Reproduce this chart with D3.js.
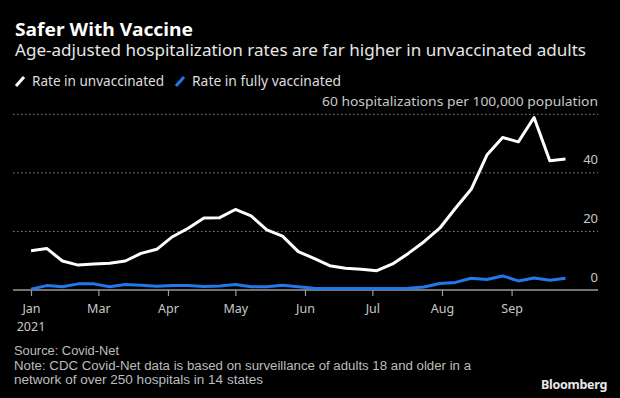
<!DOCTYPE html>
<html>
<head>
<meta charset="utf-8">
<script src="https://cdn.jsdelivr.net/npm/d3@7"></script>
<style>
  html, body { margin: 0; padding: 0; background: #000; }
  svg { display: block; font-family: "Noto Sans", "Open Sans", sans-serif; }
</style>
</head>
<body>
<svg id="chart" width="620" height="398"></svg>
<script>
// weekly points, Jan 30 - Sep 25 2021
const weeks = [
  '2021-01-30', '2021-02-06', '2021-02-13', '2021-02-20', '2021-02-27',
  '2021-03-06', '2021-03-13', '2021-03-20', '2021-03-27',
  '2021-04-03', '2021-04-10', '2021-04-17', '2021-04-24',
  '2021-05-01', '2021-05-08', '2021-05-15', '2021-05-22', '2021-05-29',
  '2021-06-05', '2021-06-12', '2021-06-19', '2021-06-26',
  '2021-07-03', '2021-07-10', '2021-07-17', '2021-07-24', '2021-07-31',
  '2021-08-07', '2021-08-14', '2021-08-21', '2021-08-28',
  '2021-09-04', '2021-09-11', '2021-09-18', '2021-09-25'
];
const unvaccinated = [
  13.4, 14.2, 9.9, 8.5, 8.9, 9.1, 9.9, 12.5, 13.9, 18.2, 21.1, 24.6, 24.7,
  27.5, 25.3, 20.5, 18.4, 13.1, 10.8, 8.3, 7.4, 7.1, 6.6, 8.9, 12.5, 16.5,
  21.1, 27.9, 34.4, 46.1, 52.1, 50.6, 58.9, 44.1, 44.7
];
const vaccinated = [
  0.3, 1.5, 1.1, 2.1, 2.1, 1.1, 1.9, 1.6, 1.3, 1.5, 1.5, 1.2, 1.4,
  1.9, 1.1, 1.1, 1.6, 1.1, 0.6, 0.5, 0.5, 0.5, 0.5, 0.5, 0.6, 1.0,
  2.2, 2.6, 4.0, 3.6, 4.8, 3.1, 4.1, 3.3, 4.0
];
const yTicks = [0, 20, 40, 60];
const xTickDates = ['2021-01-30', '2021-03-01', '2021-04-01', '2021-05-01',
                    '2021-06-01', '2021-07-01', '2021-08-01', '2021-09-01'];
const xTickLabels = ['Jan', 'Mar', 'Apr', 'May', 'Jun', 'Jul', 'Aug', 'Sep'];

const parse = d3.timeParse('%Y-%m-%d');
const dates = weeks.map(parse);

const svg = d3.select('#chart');
svg.append('rect').attr('width', 620).attr('height', 398).attr('fill', '#000');

// squeeze text to the width seen in the picture
function fit(sel, w) {
    sel.attr('textLength', w).attr('lengthAdjust', 'spacingAndGlyphs');
    return sel;
}

const x = d3.scaleTime()
    .domain([dates[0], dates[dates.length - 1]])
    .range([31, 565.5]);

const y = d3.scaleLinear()
    .domain([0, 60])
    .range([290, 114.3]);

const left = 13, right = 598;

// titles
fit(svg.append('text').attr('x', 15).attr('y', 36)
    .attr('fill', '#fff').attr('font-weight', 'bold').style('font-size', '17px')
    .text('Safer With Vaccine'), 178);
fit(svg.append('text').attr('x', 15).attr('y', 56)
    .attr('fill', '#e6e6e6').style('font-size', '16px')
    .text('Age-adjusted hospitalization rates are far higher in unvaccinated adults'), 571);

// legend
const legend = [
    { label: 'Rate in unvaccinated', color: '#fff', x: 15, w: 132 },
    { label: 'Rate in fully vaccinated', color: '#2277ea', x: 175, w: 149 }
];
legend.forEach(l => {
    svg.append('line')
        .attr('x1', l.x + 1).attr('y1', 86)
        .attr('x2', l.x + 9).attr('y2', 77)
        .attr('stroke', l.color).attr('stroke-width', 3);
    fit(svg.append('text').attr('x', l.x + 17).attr('y', 85.5)
        .attr('fill', '#ddd').style('font-size', '14px')
        .text(l.label), l.w);
});

// grid + y labels
yTicks.forEach(t => {
    if (t > 0) {
        svg.append('line')
            .attr('x1', left).attr('x2', right)
            .attr('y1', y(t)).attr('y2', y(t))
            .attr('stroke', '#8a8a8a').attr('stroke-width', 1)
            .attr('stroke-dasharray', '1.5,2.5');
    }
    const lbl = svg.append('text')
        .attr('x', right).attr('y', y(t) - 8.5)
        .attr('text-anchor', 'end')
        .attr('fill', '#c8c8c8').style('font-size', '13px')
        .text(t === 60 ? '60 hospitalizations per 100,000 population' : t);
    if (t === 60) fit(lbl, 276);
});

// x axis
svg.append('line')
    .attr('x1', left).attr('x2', right)
    .attr('y1', y(0)).attr('y2', y(0))
    .attr('stroke', '#9a9a9a').attr('stroke-width', 1.5);

const xAxis = d3.axisBottom(x)
    .tickValues(xTickDates.map(parse))
    .tickSize(6)
    .tickFormat((d, i) => xTickLabels[i]);

const gx = svg.append('g')
    .attr('transform', `translate(0,${y(0)})`)
    .call(xAxis);
gx.select('.domain').remove();
gx.selectAll('.tick line').attr('stroke', '#9a9a9a').attr('stroke-width', 1.2);
gx.selectAll('.tick text')
    .attr('fill', '#c8c8c8').attr('dy', 0).attr('y', 23)
    .style('font-size', '12.5px')
    .style('font-family', '"Noto Sans", sans-serif');

svg.append('text')
    .attr('x', x(dates[0])).attr('y', 330.5)
    .attr('text-anchor', 'middle')
    .attr('fill', '#c8c8c8').style('font-size', '12.5px')
    .text('2021');

// lines
const line = vals => d3.line()
    .x((d, i) => x(dates[i]))
    .y(d => y(d))
    .curve(d3.curveLinear)(vals);

svg.append('path')
    .attr('d', line(vaccinated))
    .attr('fill', 'none')
    .attr('stroke', '#2277ea')
    .attr('stroke-width', 3)
    .attr('stroke-linejoin', 'round');

svg.append('path')
    .attr('d', line(unvaccinated))
    .attr('fill', 'none')
    .attr('stroke', '#fff')
    .attr('stroke-width', 3)
    .attr('stroke-linejoin', 'round');

// footnotes (tighter font so the 14px line spacing doesn't collide)
const notes = [
    { t: 'Source: Covid-Net', y: 355, w: 105 },
    { t: 'Note: CDC Covid-Net data is based on surveillance of adults 18 and older in a', y: 369.5, w: 457 },
    { t: 'network of over 250 hospitals in 14 states', y: 384, w: 249 }
];
notes.forEach(n => {
    fit(svg.append('text').attr('x', 14).attr('y', n.y)
        .attr('fill', '#bdbdbd')
        .style('font-family', '"Liberation Sans", Arial, sans-serif')
        .style('font-size', '12px')
        .text(n.t), n.w);
});

fit(svg.append('text').attr('x', 607).attr('y', 389)
    .attr('text-anchor', 'end')
    .attr('fill', '#e8e8e8').attr('font-weight', 'bold')
    .style('font-size', '13px').style('letter-spacing', '-0.3px')
    .text('Bloomberg'), 66);
</script>
</body>
</html>
